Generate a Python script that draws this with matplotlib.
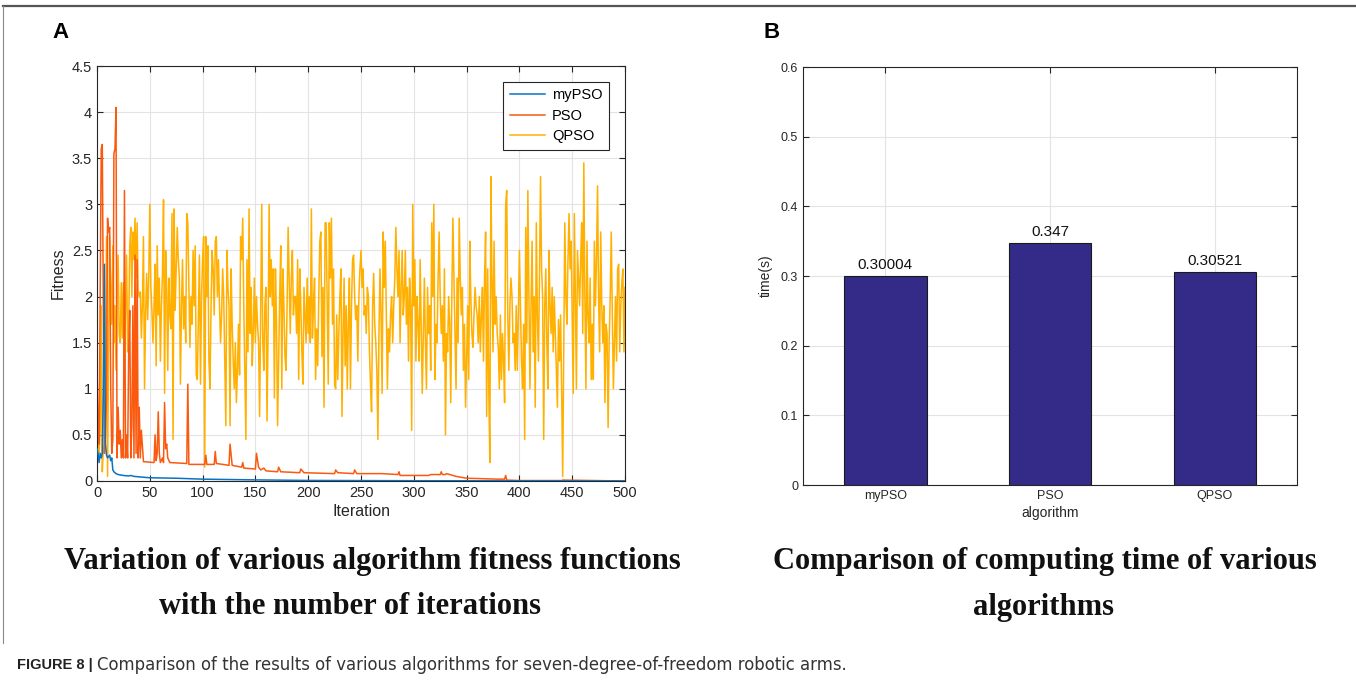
import numpy as np
import matplotlib
matplotlib.use("Agg")
import matplotlib.pyplot as plt
from matplotlib.lines import Line2D

plt.rcParams['font.family'] = ['Liberation Sans', 'DejaVu Sans']

# ---- panel A data ----
qpso_fit = [
    0.5, 0.45, 0.3, 0.55, 1.9, 0.1, 0.35, 0.4, 1.2, 2.65,
    0.05, 1.5, 2.65, 2.1, 1.7, 2.55, 1.5, 1.9, 1.2, 2.0,
    2.45, 1.6, 1.5, 2.15, 1.55, 2.15, 1.3, 1.9, 2.45, 1.4,
    1.65, 2.55, 2.75, 2.0, 2.7, 2.4, 2.85, 2.2, 2.8, 2.05,
    2.0, 2.05, 1.55, 1.9, 2.65, 1.0, 1.8, 2.25, 1.75, 2.2,
    3.0, 2.1, 1.85, 1.5, 1.9, 2.35, 1.25, 2.55, 1.8, 2.2,
    1.3, 1.9, 2.25, 3.05, 0.95, 2.5, 2.1, 1.2, 2.2, 1.8,
    1.65, 2.9, 0.45, 2.95, 1.85, 2.3, 2.75, 2.4, 2.2, 1.05,
    1.9, 2.4, 1.65, 2.0, 1.5, 2.9, 2.8, 2.1, 1.45, 2.0,
    1.7, 2.5, 1.9, 2.55, 1.15, 1.1, 1.8, 2.45, 1.05, 2.0,
    2.4, 2.65, 0.15, 2.65, 2.0, 2.55, 1.3, 1.0, 1.9, 2.5,
    2.3, 1.8, 2.6, 2.65, 2.0, 2.4, 1.9, 1.5, 1.8, 2.3,
    2.0, 1.3, 0.6, 2.5, 2.1, 1.9, 0.6, 2.3, 1.7, 1.3,
    1.0, 1.5, 0.85, 1.2, 1.7, 1.15, 2.65, 2.4, 2.85, 1.9,
    1.2, 0.45, 2.4, 1.4, 2.95, 1.6, 2.1, 1.25, 1.6, 2.2,
    1.5, 2.0, 1.7, 1.5, 0.7, 1.8, 3.0, 1.5, 1.2, 1.9,
    2.1, 0.65, 1.6, 3.0, 2.0, 2.4, 1.9, 2.3, 0.9, 2.3,
    1.7, 0.6, 1.3, 2.0, 2.55, 1.0, 2.3, 1.9, 1.35, 1.2,
    1.9, 2.75, 2.2, 1.6, 2.2, 2.5, 1.8, 2.0, 2.0, 1.6,
    2.4, 1.1, 2.3, 1.9, 1.4, 1.05, 2.1, 1.8, 1.5, 2.2,
    1.6, 2.0, 1.5, 2.95, 1.55, 1.9, 2.2, 1.1, 1.65, 1.25,
    2.0, 2.6, 2.7, 1.35, 2.1, 0.8, 2.8, 2.8, 1.9, 1.05,
    2.8, 2.2, 2.85, 1.7, 2.3, 1.05, 1.0, 1.8, 1.1, 1.6,
    2.0, 2.3, 0.7, 1.6, 2.2, 1.25, 1.9, 1.0, 1.7, 2.2,
    1.0, 1.9, 2.4, 2.45, 2.0, 1.75, 1.9, 1.3, 2.0, 2.3,
    2.5, 2.1, 2.3, 1.8, 1.9, 1.6, 2.1, 2.0, 1.4, 1.05,
    0.75, 1.9, 2.25, 1.7, 1.5, 1.2, 0.45, 1.6, 2.3, 1.8,
    0.95, 2.7, 2.1, 2.6, 1.8, 1.0, 1.65, 1.4, 1.8, 2.0,
    1.5, 1.9, 2.2, 2.75, 2.3, 2.0, 2.5, 1.5, 2.1, 2.5,
    1.8, 2.0, 2.5, 1.7, 2.1, 1.3, 2.2, 1.9, 0.55, 3.0,
    1.9, 2.4, 1.3, 2.0, 1.7, 1.3, 2.4, 1.7, 0.95, 1.6,
    2.2, 1.5, 1.0, 2.1, 1.6, 1.9, 1.2, 2.8, 2.0, 3.0,
    1.1, 1.7, 1.5, 2.2, 2.7, 2.0, 1.6, 1.9, 1.3, 2.3,
    0.5, 1.6, 1.4, 2.0, 1.7, 0.85, 2.0, 2.85, 2.2, 1.6,
    1.0, 2.2, 1.5, 2.85, 2.2, 1.8, 2.1, 1.2, 1.7, 0.8,
    1.3, 1.9, 1.1, 2.6, 2.0, 1.6, 1.45, 1.8, 2.1, 1.9,
    1.8, 1.5, 2.0, 1.4, 1.8, 2.1, 1.3, 2.2, 2.7, 0.7,
    2.3, 1.0, 0.2, 3.3, 2.2, 1.4, 2.6, 1.7, 2.0, 1.6,
    1.45, 1.0, 1.8, 1.1, 1.6, 1.3, 0.85, 3.0, 3.15, 1.8,
    1.2, 1.9, 2.2, 2.0, 1.5, 1.6, 1.2, 1.9, 1.2, 1.8,
    2.5, 1.9, 1.3, 1.0, 1.7, 0.45, 2.75, 1.5, 3.15, 2.0,
    1.0, 1.9, 2.6, 1.4, 2.0, 0.8, 2.8, 1.8, 1.3, 2.2,
    3.3, 2.3, 2.0, 0.45, 1.9, 2.3, 1.5, 1.0, 2.5, 1.9,
    1.6, 2.1, 1.4, 2.0, 1.6, 1.2, 0.8, 1.75, 1.3, 1.8,
    1.0, 0.05, 1.5, 2.8, 2.0, 1.7, 2.4, 2.9, 2.3, 2.6,
    1.8, 0.95, 2.9, 2.0, 1.0, 2.5, 2.2, 1.9, 2.4, 2.8,
    1.6, 3.45, 2.0, 1.0, 2.6, 1.8, 1.5, 2.2, 1.1, 1.7,
    1.1, 2.6, 1.9, 2.4, 3.2, 2.0, 1.4, 2.7, 1.9, 1.5,
    1.9, 0.85, 1.7, 1.6, 0.58, 1.5, 2.0, 2.7, 1.8, 1.0,
    1.5, 2.0, 1.3, 2.3, 2.35, 1.4, 1.9, 2.15, 2.3, 1.4,
    2.1,
]

pso_iter = [0, 1, 2, 3, 4, 5, 6, 7, 8, 9, 10, 11, 12, 13, 14, 15, 16, 17, 18, 19,
            20, 21, 22, 23, 24, 25, 26, 27, 28, 29, 30, 31, 32, 33, 34, 35, 36, 37, 38, 39,
            40, 41, 42, 44, 54, 55, 56, 57, 58, 59, 60, 62, 63, 64, 65, 66, 67, 69, 85, 86,
            87, 102, 103, 104, 111, 112, 113, 125, 126, 128, 137, 138, 139, 150, 151, 153, 155, 158, 160, 171,
            172, 174, 192, 193, 196, 225, 226, 228, 243, 244, 246, 270, 285, 286, 287, 300, 314, 316, 325, 326,
            327, 330, 331, 340, 350, 380, 386, 387, 388, 400, 440, 441, 500]
pso_fit = [1.25, 0.6, 0.4, 2.0, 3.6, 3.65, 1.85, 0.3, 0.5, 0.9, 2.85, 2.7, 2.75, 1.0, 0.3, 0.45, 3.55, 3.6, 4.05, 0.25,
           0.8, 0.4, 0.55, 0.25, 0.45, 0.25, 3.15, 0.25, 0.5, 0.25, 1.4, 1.85, 0.25, 0.6, 1.9, 0.25, 2.45, 0.3, 2.4, 0.25,
           0.8, 0.25, 0.55, 0.21, 0.2, 0.5, 0.22, 0.3, 0.75, 0.3, 0.2, 0.25, 0.2, 0.85, 0.35, 0.4, 0.25, 0.2, 0.19, 1.05,
           0.18, 0.18, 0.28, 0.18, 0.18, 0.32, 0.19, 0.17, 0.4, 0.17, 0.15, 0.2, 0.14, 0.13, 0.3, 0.15, 0.12, 0.14, 0.11, 0.1,
           0.15, 0.1, 0.09, 0.13, 0.09, 0.08, 0.12, 0.09, 0.08, 0.12, 0.08, 0.08, 0.07, 0.1, 0.06, 0.06, 0.06, 0.07, 0.07, 0.1,
           0.07, 0.07, 0.08, 0.05, 0.03, 0.02, 0.02, 0.06, 0.01, 0.005, 0.005, 0.01, 0.0]

mypso_iter = [0, 1, 2, 3, 4, 5, 6, 7, 8, 9, 10, 12, 13, 14, 15, 16, 18, 20, 25, 30,
              32, 35, 40, 50, 75, 100, 150, 200, 300, 500]
mypso_fit = [0.35, 0.3, 0.2, 0.3, 0.25, 0.3, 1.0, 2.35, 0.4, 0.28, 0.25, 0.28, 0.22, 0.25, 0.12, 0.1, 0.08, 0.07, 0.06, 0.055,
             0.06, 0.05, 0.045, 0.035, 0.03, 0.02, 0.012, 0.006, 0.003, 0.001]

# ---- panel B data ----
algorithms = ['myPSO', 'PSO', 'QPSO']
times = [0.30004, 0.347, 0.30521]
time_labels = ['0.30004', '0.347', '0.30521']

W, H = 1356, 683
fig = plt.figure(figsize=(W / 100, H / 100), dpi=100)


def box(x0, y0, x1, y1):
    # pixel box -> figure fraction
    return [x0 / W, 1 - y1 / H, (x1 - x0) / W, (y1 - y0) / H]


def matlab_style(ax, fs):
    ax.grid(True, color='#e3e3e3', linewidth=0.8)
    ax.set_axisbelow(True)
    ax.tick_params(direction='in', top=True, right=True, length=4, width=0.8,
                   labelsize=fs, colors='#262626')
    for s in ax.spines.values():
        s.set_color('#262626')
        s.set_linewidth(0.8)


# ---- A ----
axA = fig.add_axes(box(97, 66, 625, 481))
iters = np.arange(len(qpso_fit))
axA.plot(mypso_iter, mypso_fit, color='#0a72c4', lw=1.1, label='myPSO', zorder=3)
axA.plot(pso_iter, pso_fit, color='#fa5a0f', lw=1.1, label='PSO', zorder=2)
axA.plot(iters, qpso_fit, color='#ffb000', lw=1.1, label='QPSO', zorder=1)
axA.set_xlim(0, 500)
axA.set_ylim(0, 4.5)
axA.set_xticks(np.arange(0, 501, 50))
axA.set_yticks(np.arange(0, 4.51, 0.5))
axA.set_yticklabels(['0', '0.5', '1', '1.5', '2', '2.5', '3', '3.5', '4', '4.5'])
matlab_style(axA, 10.5)
axA.set_xlabel('Iteration', fontsize=11.5, color='#262626', labelpad=3)
axA.set_ylabel('Fitness', fontsize=11.5, color='#262626', labelpad=4)
leg = axA.legend(loc='upper right', bbox_to_anchor=(0.97, 0.962), borderaxespad=0,
                 fontsize=10.5, fancybox=False, framealpha=1, edgecolor='#262626',
                 handlelength=2.4, borderpad=0.45, labelspacing=0.45, handletextpad=0.5)
leg.get_frame().set_linewidth(0.8)

# ---- B ----
axB = fig.add_axes(box(803, 67, 1297, 485))
pos = np.arange(1, len(algorithms) + 1)
bars = axB.bar(pos, times, width=0.5, color='#342a87', edgecolor='#1a1a1a', linewidth=0.8, zorder=3)
for b, lab in zip(bars, time_labels):
    axB.text(b.get_x() + b.get_width() / 2, b.get_height() + 0.006, lab,
             ha='center', va='bottom', fontsize=11, color='#111111')
axB.set_xlim(0.5, 3.5)
axB.set_ylim(0, 0.6)
axB.set_xticks(pos)
axB.set_xticklabels(algorithms)
axB.set_yticks(np.arange(0, 0.61, 0.1))
axB.set_yticklabels(['0', '0.1', '0.2', '0.3', '0.4', '0.5', '0.6'])
matlab_style(axB, 9)
axB.set_xlabel('algorithm', fontsize=10, color='#262626', labelpad=3)
axB.set_ylabel('time(s)', fontsize=10, color='#262626', labelpad=6)

# ---- panel letters, captions, frame ----
fig.text(52 / W, 1 - 32 / H, 'A', fontsize=16, fontweight='bold', va='center', ha='left')
fig.text(764 / W, 1 - 32 / H, 'B', fontsize=16, fontweight='bold', va='center', ha='left')

cap_font = dict(family=['Liberation Serif', 'DejaVu Serif'], fontweight='bold', fontsize=22,
                ha='center', va='center', color='#111111')
fig.text(372 / W, 1 - 562 / H, 'Variation of various algorithm fitness functions', **cap_font)
fig.text(350 / W, 1 - 607 / H, 'with the number of iterations', **cap_font)
fig.text(1045 / W, 1 - 562 / H, 'Comparison of computing time of various', **cap_font)
fig.text(1043 / W, 1 - 607 / H, 'algorithms', **cap_font)

fig.text(17 / W, 1 - 665 / H, 'FIGURE 8 |', fontsize=10.5, fontweight='bold', va='center', ha='left',
         color='#222222')
fig.text(97 / W, 1 - 665 / H,
         'Comparison of the results of various algorithms for seven-degree-of-freedom robotic arms.',
         family=['DejaVu Sans'], fontsize=11.9, va='center', ha='left', color='#333333')

fig.add_artist(Line2D([3 / W, 1], [1 - 6 / H, 1 - 6 / H], color='#555555', lw=1.6))
fig.add_artist(Line2D([3 / W, 3 / W], [1 - 6 / H, 1 - 643 / H], color='#888888', lw=0.8))

fig.savefig('out.png', dpi=100)
